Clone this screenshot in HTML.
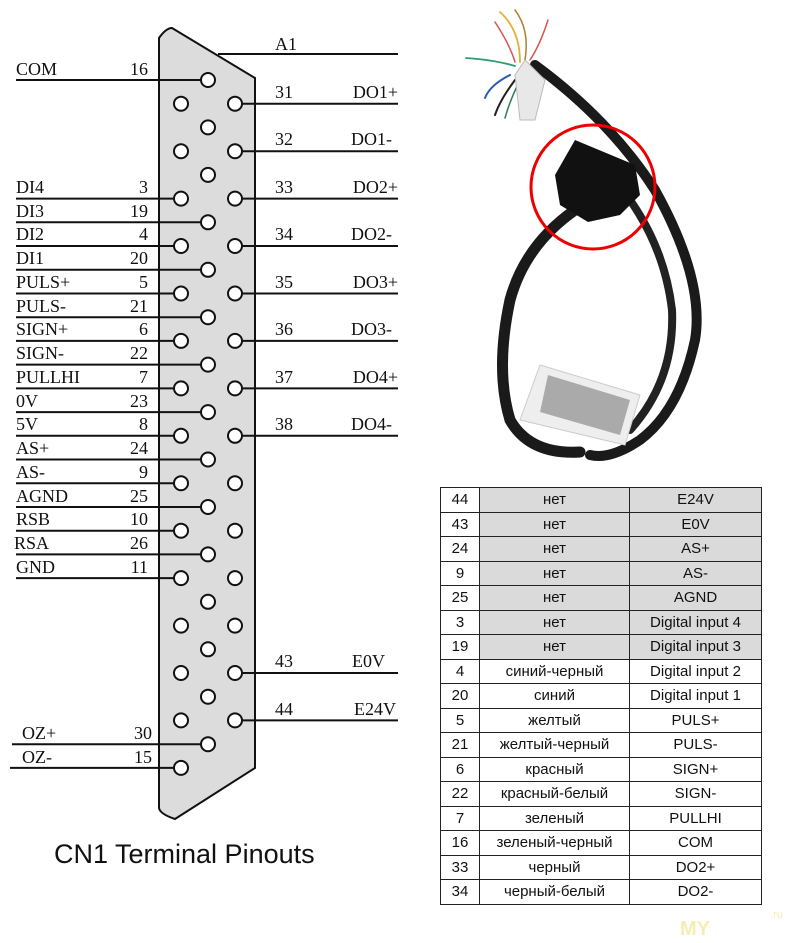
<!DOCTYPE html>
<html><head><meta charset="utf-8"><style>
body{margin:0;background:#fff;width:800px;height:943px;overflow:hidden;position:relative}
svg{position:absolute;left:0;top:0}
table{position:absolute;left:440px;top:487px;border-collapse:collapse;font-family:"Liberation Sans",sans-serif;font-size:15px;color:#111}
td{border:1px solid #222;height:23.5px;padding:0;text-align:center;line-height:23px}
td.a{width:38px}td.b{width:149px}td.c{width:131px}
tr.g td.b,tr.g td.c{background:#dadada}
</style></head><body>
<svg width="800" height="943" viewBox="0 0 800 943">
<g font-family="Liberation Serif,serif" font-size="18" fill="#111">
<path d="M159,38 L159,808 Q160,814 175,819 L255,768 L255,78 L172,28 Q166,28 159,38 Z" fill="#dcdcdc" stroke="#111" stroke-width="2"/>
<g stroke="#111" stroke-width="2">
<line x1="218" y1="54" x2="398" y2="54"/>
<line x1="16" y1="80" x2="208" y2="80"/>
<line x1="16" y1="198.6" x2="181" y2="198.6"/>
<line x1="16" y1="222.3" x2="208" y2="222.3"/>
<line x1="16" y1="246" x2="181" y2="246"/>
<line x1="16" y1="269.8" x2="208" y2="269.8"/>
<line x1="16" y1="293.5" x2="181" y2="293.5"/>
<line x1="16" y1="317.2" x2="208" y2="317.2"/>
<line x1="16" y1="340.9" x2="181" y2="340.9"/>
<line x1="16" y1="364.6" x2="208" y2="364.6"/>
<line x1="16" y1="388.4" x2="181" y2="388.4"/>
<line x1="16" y1="412.1" x2="208" y2="412.1"/>
<line x1="16" y1="435.8" x2="181" y2="435.8"/>
<line x1="16" y1="459.5" x2="208" y2="459.5"/>
<line x1="16" y1="483.2" x2="181" y2="483.2"/>
<line x1="16" y1="507" x2="208" y2="507"/>
<line x1="16" y1="530.7" x2="181" y2="530.7"/>
<line x1="16" y1="554.4" x2="208" y2="554.4"/>
<line x1="16" y1="578.1" x2="181" y2="578.1"/>
<line x1="12" y1="744.2" x2="208" y2="744.2"/>
<line x1="10" y1="767.9" x2="181" y2="767.9"/>
<line x1="235" y1="103.7" x2="398" y2="103.7"/>
<line x1="235" y1="151.2" x2="398" y2="151.2"/>
<line x1="235" y1="198.6" x2="398" y2="198.6"/>
<line x1="235" y1="246" x2="398" y2="246"/>
<line x1="235" y1="293.5" x2="398" y2="293.5"/>
<line x1="235" y1="340.9" x2="398" y2="340.9"/>
<line x1="235" y1="388.4" x2="398" y2="388.4"/>
<line x1="235" y1="435.8" x2="398" y2="435.8"/>
<line x1="235" y1="673" x2="398" y2="673"/>
<line x1="235" y1="720.4" x2="398" y2="720.4"/>
</g>
<g fill="#fff" stroke="#111" stroke-width="2">
<circle cx="208" cy="80" r="7"/><circle cx="208" cy="127.4" r="7"/><circle cx="208" cy="174.9" r="7"/><circle cx="208" cy="222.3" r="7"/><circle cx="208" cy="269.8" r="7"/><circle cx="208" cy="317.2" r="7"/><circle cx="208" cy="364.6" r="7"/><circle cx="208" cy="412.1" r="7"/><circle cx="208" cy="459.5" r="7"/><circle cx="208" cy="507" r="7"/><circle cx="208" cy="554.4" r="7"/><circle cx="208" cy="601.8" r="7"/><circle cx="208" cy="649.3" r="7"/><circle cx="208" cy="696.7" r="7"/><circle cx="208" cy="744.2" r="7"/>
<circle cx="181" cy="103.7" r="7"/><circle cx="181" cy="151.2" r="7"/><circle cx="181" cy="198.6" r="7"/><circle cx="181" cy="246" r="7"/><circle cx="181" cy="293.5" r="7"/><circle cx="181" cy="340.9" r="7"/><circle cx="181" cy="388.4" r="7"/><circle cx="181" cy="435.8" r="7"/><circle cx="181" cy="483.2" r="7"/><circle cx="181" cy="530.7" r="7"/><circle cx="181" cy="578.1" r="7"/><circle cx="181" cy="625.6" r="7"/><circle cx="181" cy="673" r="7"/><circle cx="181" cy="720.4" r="7"/><circle cx="181" cy="767.9" r="7"/>
<circle cx="235" cy="103.7" r="7"/><circle cx="235" cy="151.2" r="7"/><circle cx="235" cy="198.6" r="7"/><circle cx="235" cy="246" r="7"/><circle cx="235" cy="293.5" r="7"/><circle cx="235" cy="340.9" r="7"/><circle cx="235" cy="388.4" r="7"/><circle cx="235" cy="435.8" r="7"/><circle cx="235" cy="483.2" r="7"/><circle cx="235" cy="530.7" r="7"/><circle cx="235" cy="578.1" r="7"/><circle cx="235" cy="625.6" r="7"/><circle cx="235" cy="673" r="7"/><circle cx="235" cy="720.4" r="7"/>
</g>
<text x="275" y="50">A1</text>
<text x="16" y="75">COM</text>
<text x="16" y="193">DI4</text><text x="16" y="217">DI3</text><text x="16" y="240">DI2</text><text x="16" y="264">DI1</text>
<text x="16" y="288">PULS+</text><text x="16" y="312">PULS-</text><text x="16" y="335">SIGN+</text><text x="16" y="359">SIGN-</text>
<text x="16" y="383">PULLHI</text><text x="16" y="407">0V</text><text x="16" y="430">5V</text><text x="16" y="454">AS+</text>
<text x="16" y="478">AS-</text><text x="16" y="502">AGND</text><text x="16" y="525">RSB</text><text x="14" y="549">RSA</text>
<text x="16" y="573">GND</text><text x="22" y="739">OZ+</text><text x="22" y="763">OZ-</text>
<g text-anchor="end">
<text x="148" y="75">16</text>
<text x="148" y="193">3</text><text x="148" y="217">19</text><text x="148" y="240">4</text><text x="148" y="264">20</text>
<text x="148" y="288">5</text><text x="148" y="312">21</text><text x="148" y="335">6</text><text x="148" y="359">22</text>
<text x="148" y="383">7</text><text x="148" y="407">23</text><text x="148" y="430">8</text><text x="148" y="454">24</text>
<text x="148" y="478">9</text><text x="148" y="502">25</text><text x="148" y="525">10</text><text x="148" y="549">26</text>
<text x="148" y="573">11</text><text x="152" y="739">30</text><text x="152" y="763">15</text>
<text x="398" y="98">DO1+</text><text x="392" y="145">DO1-</text><text x="398" y="193">DO2+</text><text x="392" y="240">DO2-</text>
<text x="398" y="288">DO3+</text><text x="392" y="335">DO3-</text><text x="398" y="383">DO4+</text><text x="392" y="430">DO4-</text>
<text x="385" y="667">E0V</text><text x="396" y="715">E24V</text>
</g>
<text x="275" y="98">31</text><text x="275" y="145">32</text><text x="275" y="193">33</text><text x="275" y="240">34</text>
<text x="275" y="288">35</text><text x="275" y="335">36</text><text x="275" y="383">37</text><text x="275" y="430">38</text>
<text x="275" y="667">43</text><text x="275" y="715">44</text>
</g>
<text x="54" y="863" font-family="Liberation Sans,sans-serif" font-size="27" fill="#111">CN1 Terminal Pinouts</text>
<!-- photo -->
<g fill="none" stroke-linecap="round">
<path d="M495,22 Q510,45 515,62" stroke="#d9534f" stroke-width="1.5"/>
<path d="M500,12 Q520,30 520,62" stroke="#e0b030" stroke-width="1.8"/>
<path d="M515,10 Q530,30 525,60" stroke="#b08030" stroke-width="1.5"/>
<path d="M548,20 Q540,45 530,60" stroke="#d9534f" stroke-width="1.5"/>
<path d="M466,58 Q495,60 515,66" stroke="#2e9e6e" stroke-width="1.8"/>
<path d="M510,75 Q490,85 485,98" stroke="#2a5db0" stroke-width="2"/>
<path d="M515,80 Q500,100 495,115" stroke="#222" stroke-width="2"/>
<path d="M520,80 Q510,100 505,118" stroke="#2e7e4e" stroke-width="1.5"/>
<path d="M535,65 Q610,120 655,190 Q705,280 695,340 Q680,410 640,440 Q610,460 590,455" stroke="#1a1a1a" stroke-width="10"/>
<path d="M575,210 Q525,245 510,300 Q495,370 510,420 Q530,455 580,452" stroke="#1a1a1a" stroke-width="11"/>
<path d="M630,200 Q665,250 672,310 Q675,380 630,430" stroke="#222" stroke-width="8"/>
</g>
<path d="M525,60 L530,65 L545,80 L535,120 L520,120 L515,75 Z" fill="#e8e8e8" stroke="#bbb"/>
<path d="M575,140 L635,165 L640,195 L620,215 L588,222 L560,205 L555,175 Z" fill="#111"/>
<path d="M540,365 L640,395 L625,445 L520,420 Z" fill="#eee" stroke="#ccc"/>
<path d="M548,375 L630,400 L620,435 L540,412 Z" fill="#aaa"/>
<circle cx="593" cy="187" r="62" fill="none" stroke="#e00" stroke-width="3"/>
<text x="680" y="935" font-family="Liberation Sans,sans-serif" font-size="20" font-weight="bold" fill="#f5eeb0">MY</text>
<text x="770" y="918" font-family="Liberation Sans,sans-serif" font-size="11" fill="#f5eeb0">.ru</text>
</svg>
<table>
<tr class="g"><td class="a">44</td><td class="b">нет</td><td class="c">E24V</td></tr>
<tr class="g"><td class="a">43</td><td class="b">нет</td><td class="c">E0V</td></tr>
<tr class="g"><td class="a">24</td><td class="b">нет</td><td class="c">AS+</td></tr>
<tr class="g"><td class="a">9</td><td class="b">нет</td><td class="c">AS-</td></tr>
<tr class="g"><td class="a">25</td><td class="b">нет</td><td class="c">AGND</td></tr>
<tr class="g"><td class="a">3</td><td class="b">нет</td><td class="c">Digital input 4</td></tr>
<tr class="g"><td class="a">19</td><td class="b">нет</td><td class="c">Digital input 3</td></tr>
<tr><td class="a">4</td><td class="b">синий-черный</td><td class="c">Digital input 2</td></tr>
<tr><td class="a">20</td><td class="b">синий</td><td class="c">Digital input 1</td></tr>
<tr><td class="a">5</td><td class="b">желтый</td><td class="c">PULS+</td></tr>
<tr><td class="a">21</td><td class="b">желтый-черный</td><td class="c">PULS-</td></tr>
<tr><td class="a">6</td><td class="b">красный</td><td class="c">SIGN+</td></tr>
<tr><td class="a">22</td><td class="b">красный-белый</td><td class="c">SIGN-</td></tr>
<tr><td class="a">7</td><td class="b">зеленый</td><td class="c">PULLHI</td></tr>
<tr><td class="a">16</td><td class="b">зеленый-черный</td><td class="c">COM</td></tr>
<tr><td class="a">33</td><td class="b">черный</td><td class="c">DO2+</td></tr>
<tr><td class="a">34</td><td class="b">черный-белый</td><td class="c">DO2-</td></tr>
</table>
</body></html>
